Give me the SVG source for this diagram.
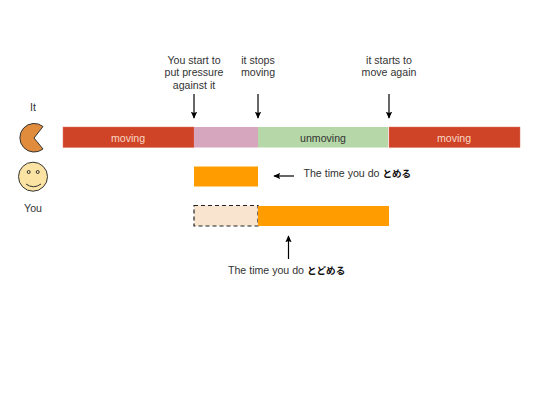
<svg xmlns="http://www.w3.org/2000/svg" width="540" height="405" viewBox="0 0 540 405">
<defs>
<marker id="ah" viewBox="0 0 10 10" refX="9" refY="5" markerWidth="7" markerHeight="7" markerUnits="userSpaceOnUse" orient="auto"><path d="M0 0.500L10 5L0 9.500L2 5Z" fill="#000"/></marker>
</defs>
<style>
text{font-family:"Liberation Sans","Noto Sans CJK JP",sans-serif;font-size:10.6px;fill:#333;text-anchor:middle}
.s{text-anchor:start}
.w{fill:#f8d8c4}
.b{font-weight:700;font-size:9.600px;font-family:"Noto Sans CJK JP","Liberation Sans",sans-serif;fill:#111}
.c{stroke:#000;stroke-width:1.2;fill:none;marker-end:url(#ah)}
</style>
<rect width="540" height="405" fill="#fff"/>
<g id="bar-moving-1"><rect x="63" y="127" width="131" height="20.500" fill="#cf4327" stroke="#dd7a66" stroke-width=".5"/><text class="w" x="128" y="142">moving</text></g>
<g id="bar-pressure"><rect x="194" y="127" width="64" height="20.500" fill="#d5a6bd"/></g>
<g id="bar-unmoving"><rect x="258" y="127" width="130" height="20.500" fill="#b6d7a8"/><text x="323" y="142">unmoving</text></g>
<g id="bar-moving-2"><rect x="389" y="127" width="131" height="20.500" fill="#cf4327" stroke="#dd7a66" stroke-width=".5"/><text class="w" x="454" y="142">moving</text></g>
<g id="bar-tomeru"><rect x="194" y="166.500" width="64" height="20" fill="#ff9d00"/></g>
<g id="bar-todomeru-dashed"><rect x="194" y="205.500" width="64" height="20.500" fill="#f9e5cf" stroke="#222" stroke-width="1.200" stroke-dasharray="4 3"/></g>
<g id="bar-todomeru"><rect x="258" y="206" width="131" height="20" fill="#ff9d00"/></g>
<g id="it-icon"><text x="33" y="111">It</text><path d="M43 126.500A14.300 14.300 0 1 0 43 149L34 138Z" fill="#e08c3c" stroke="#333" stroke-width="1"/></g>
<g id="you-icon"><circle cx="33" cy="176.700" r="14.500" fill="#fbe3a3" stroke="#333" stroke-width="1"/><circle cx="28.700" cy="172" r="1.500" fill="#fbe3a3" stroke="#333"/><circle cx="37.700" cy="172" r="1.500" fill="#fbe3a3" stroke="#333"/><path d="M26 184Q33.500 189.500 41 184" fill="none" stroke="#333" stroke-width="1"/><text x="33" y="212">You</text></g>
<g id="label-start"><text x="194" y="64">You start to</text><text x="194" y="76">put pressure</text><text x="194" y="89">against it</text></g>
<g id="label-stops"><text x="258" y="64">it stops</text><text x="258" y="76">moving</text></g>
<g id="label-starts"><text x="389" y="64">it starts to</text><text x="389" y="76">move again</text></g>
<g id="label-tomeru"><text class="s" x="303.500" y="177">The time you do <tspan class="b">とめる</tspan></text></g>
<g id="label-todomeru"><text class="s" x="228" y="274">The time you do <tspan class="b">とどめる</tspan></text></g>
<g id="connectors">
<path class="c" d="M194 94V118"/><path class="c" d="M258 94V118"/><path class="c" d="M389 94V118"/>
<path class="c" d="M294 176H274"/><path class="c" d="M288.500 259V236"/>
</g>
</svg>
